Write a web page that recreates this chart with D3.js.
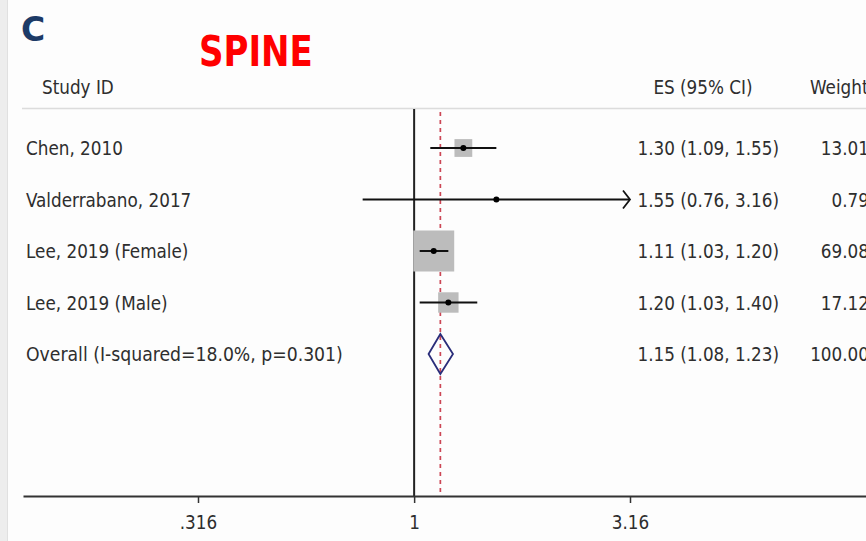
<!DOCTYPE html>
<html><head><meta charset="utf-8">
<script src="https://cdn.jsdelivr.net/npm/d3@7"></script>
<style>
html,body{margin:0;padding:0;background:#fdfdfd;}
svg{display:block;}
.t{font-family:"DejaVu Sans Condensed","Liberation Sans Narrow",sans-serif;fill:#2e2e2e;}
</style></head>
<body><svg id="c" width="866" height="541"></svg>
<script>
const studies = ["Chen, 2010","Valderrabano, 2017","Lee, 2019 (Female)","Lee, 2019 (Male)","Overall (I-squared=18.0%, p=0.301)"];
const es    = [1.30, 1.55, 1.11, 1.20, 1.15];
const lower = [1.09, 0.76, 1.03, 1.03, 1.08];
const upper = [1.55, 3.16, 1.20, 1.40, 1.23];
const weights = ["13.01","0.79","69.08","17.12","100.00"];
const weightVals = [13.01, 0.79, 69.08, 17.12, 100.00];
const esLabels = ["1.30 (1.09, 1.55)","1.55 (0.76, 3.16)","1.11 (1.03, 1.20)","1.20 (1.03, 1.40)","1.15 (1.08, 1.23)"];
const tickVals = [0.316, 1, 3.16];
const tickLabels = [".316","1","3.16"];
const isOverall = [false,false,false,false,true];

const SX = 0.935; // horizontal condensing of text
const svg = d3.select("#c");
svg.append("rect").attr("width",866).attr("height",541).attr("fill","#fdfdfd");
svg.append("rect").attr("x",0).attr("y",0).attr("width",7).attr("height",541).attr("fill","#ededed");
svg.append("line").attr("x1",7.5).attr("x2",7.5).attr("y1",0).attr("y2",541).attr("stroke","#e0e0e0");

// scales
const x = d3.scaleLog().domain([0.316, 3.16]).range([198, 630]);
x.domain([x.invert(23), x.invert(866)]).range([23, 866]);
const y = d3.scalePoint().domain(studies).range([148, 354]);
const box = d3.scaleSqrt().domain([0, 69.08]).range([0, 41]);
const axisY = 496;

function txt(sel, px, py, s, size, anchor, sx) {
  return sel.append("text").attr("class","t").attr("transform",`translate(${px},${py}) scale(${sx||SX},1)`)
    .attr("dy","0.35em").attr("font-size",size).attr("text-anchor",anchor||"start").text(s);
}

// titles
svg.append("text").attr("x",21).attr("y",41).text("C")
  .attr("font-family","'DejaVu Sans',sans-serif").attr("font-weight","bold").attr("font-size",33).attr("fill","#1c3a66");
svg.append("text").attr("transform","translate(199,66) scale(0.88,1)").text("SPINE")
  .attr("font-family","'DejaVu Sans Condensed',sans-serif").attr("font-weight","bold").attr("font-size",43).attr("fill","#ff0000");

// header
txt(svg, 42, 87, "Study ID", 20);
txt(svg, 703, 87, "ES (95% CI)", 20, "middle");
txt(svg, 810, 87, "Weight", 20);
svg.append("line").attr("x1",22).attr("x2",866).attr("y1",108.5).attr("y2",108.5).attr("stroke","#dcdcdc").attr("stroke-width",1.5);

// null line and overall line
svg.append("line").attr("x1",x(1)).attr("x2",x(1)).attr("y1",109).attr("y2",axisY).attr("stroke","#222").attr("stroke-width",2);
svg.append("line").attr("x1",x(es[4])).attr("x2",x(es[4])).attr("y1",112).attr("y2",axisY)
  .attr("stroke","#cc4655").attr("stroke-width",1.7).attr("stroke-dasharray","4,4");

const rows = studies.map((s,i)=>({s,es:es[i],lo:lower[i],hi:upper[i],w:weightVals[i],wl:weights[i],el:esLabels[i],ov:isOverall[i]}));
const studyRows = rows.filter(d=>!d.ov);

// boxes
svg.selectAll("rect.box").data(studyRows).join("rect").attr("class","box")
  .attr("x",d=>x(d.es)-box(d.w)/2).attr("y",d=>y(d.s)-box(d.w)/2)
  .attr("width",d=>box(d.w)).attr("height",d=>box(d.w)).attr("fill","#bcbcbc");
// CI lines
svg.selectAll("line.ci").data(studyRows).join("line").attr("class","ci")
  .attr("x1",d=>x(d.lo)).attr("x2",d=>x(d.hi)).attr("y1",d=>y(d.s)).attr("y2",d=>y(d.s))
  .attr("stroke","#111").attr("stroke-width",2);
// arrow for clipped CI
svg.selectAll("path.arrow").data(studyRows.filter(d=>d.hi>=3.16)).join("path").attr("class","arrow")
  .attr("d",d=>`M${x(d.hi)-7},${y(d.s)-9}L${x(d.hi)},${y(d.s)}L${x(d.hi)-7},${y(d.s)+9}`)
  .attr("fill","none").attr("stroke","#111").attr("stroke-width",1.8);
// points
svg.selectAll("circle.pt").data(studyRows).join("circle").attr("class","pt")
  .attr("cx",d=>x(d.es)).attr("cy",d=>y(d.s)).attr("r",3).attr("fill","#000");
// diamond
svg.selectAll("path.dia").data(rows.filter(d=>d.ov)).join("path").attr("class","dia")
  .attr("d",d=>`M${x(d.lo)},${y(d.s)}L${x(d.es)},${y(d.s)-20}L${x(d.hi)},${y(d.s)}L${x(d.es)},${y(d.s)+20}Z`)
  .attr("fill","none").attr("stroke","#2a2d7a").attr("stroke-width",1.8);

// text columns
rows.forEach(d=>{
  txt(svg, 26, y(d.s), d.s, 20, "start", d.ov ? 0.96 : SX);
  txt(svg, 779, y(d.s), d.el, 20, "end");
  txt(svg, 869, y(d.s), d.wl, 20, "end");
});

// axis
const ax = svg.append("g").attr("transform",`translate(0,${axisY})`)
  .call(d3.axisBottom(x).tickValues(tickVals).tickFormat((d,i)=>tickLabels[i]).tickSize(7).tickSizeOuter(0));
ax.select(".domain").attr("stroke","#333").attr("stroke-width",2);
ax.selectAll(".tick line").attr("stroke","#333").attr("stroke-width",1.5);
ax.selectAll(".tick text").attr("class","t").attr("font-size",20).attr("dy","0").attr("y",33)
  .attr("fill","#2e2e2e").attr("transform",`scale(${SX},1)`);
</script></body></html>
